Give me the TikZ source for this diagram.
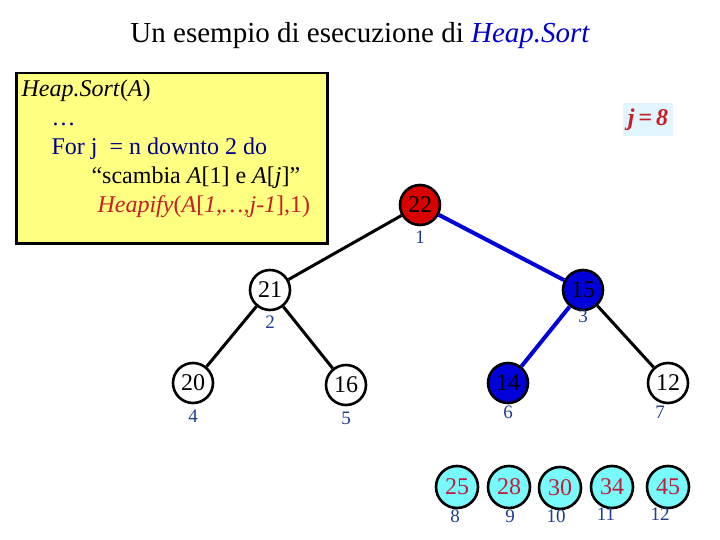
\documentclass[tikz,border=0pt]{standalone}
\usepackage{fontspec}
\setmainfont{Liberation Serif}
\setsansfont{Liberation Sans}
\begin{document}
\begin{tikzpicture}[x=1pt,y=-1pt,
  nd/.style={circle,draw,line width=2.6pt,minimum size=40pt,inner sep=0pt,font=\fontsize{24}{24}\selectfont},
  lf/.style={nd,fill={rgb,255:red,120;green,250;blue,250},text={rgb,255:red,190;green,30;blue,60},minimum size=42pt},
  ix/.style={text={rgb,255:red,30;green,60;blue,140},font=\fontsize{19}{19}\selectfont},
  ed/.style={line width=3pt},
  bed/.style={line width=4pt,blue!85!black}]
\useasboundingbox (0,0) rectangle (720,540);
\definecolor{redt}{RGB}{200,30,40}
\definecolor{navy}{RGB}{0,0,140}
\node (title) at (360,36) {\fontsize{29}{29}\selectfont Un esempio di esecuzione di \textcolor{blue!80!black}{\itshape Heap.Sort}};
\node[draw,line width=2.5pt,fill={rgb,255:red,255;green,255;blue,130},minimum width=311pt,minimum height=170pt,anchor=north west] (box) at (15,72) {};
\node[anchor=north west,align=left,font=\fontsize{24}{29}\selectfont] (code) at (18,76)
{\textit{Heap.Sort}(\textit{A})\\
\hspace*{30pt}\textcolor{navy}{\ldots}\\
\hspace*{30pt}\textcolor{navy}{For j\ \ = n downto 2 do}\\
\hspace*{70pt}``scambia \textit{A}[1] e \textit{A}[\textit{j}]''\\
\hspace*{76pt}\textcolor{redt}{\textit{Heapify}(\textit{A}[\textit{1,\ldots,j-1}],1)}};
\node[fill=cyan!12,minimum width=50pt,minimum height=33pt] (jv) at (648,120) {\fontsize{24}{24}\selectfont\bfseries\itshape\textcolor{redt}{j\,=\,8}};
\node[nd,fill=red!85!black] (n1) at (420,205) {22};
\node[nd] (n2) at (270,290) {21};
\node[nd,fill=blue!85!black] (n3) at (583,290) {15};
\node[nd] (n4) at (193,383) {20};
\node[nd] (n5) at (346,385) {16};
\node[nd,fill=blue!85!black] (n6) at (508,383) {14};
\node[nd] (n7) at (668,383) {12};
\node[lf] (n8) at (457,487) {25};
\node[lf] (n9) at (509,487) {28};
\node[lf] (n10) at (560,488) {30};
\node[lf] (n11) at (612,487) {34};
\node[lf] (n12) at (668,487) {45};
\node[ix] (i1) at (420,237) {1};
\node[ix] (i2) at (270,322) {2};
\node[ix] (i3) at (583,316) {3};
\node[ix] (i4) at (193,416) {4};
\node[ix] (i5) at (346,418) {5};
\node[ix] (i6) at (508,412) {6};
\node[ix] (i7) at (660,412) {7};
\node[ix] (i8) at (455,516) {8};
\node[ix] (i9) at (510,516) {9};
\node[ix] (i10) at (556,516) {10};
\node[ix] (i11) at (606,514) {11};
\node[ix] (i12) at (660,514) {12};
\draw[ed] (n1) -- (n2);
\draw[bed] (n1) -- (n3);
\draw[ed] (n2) -- (n4);
\draw[ed] (n2) -- (n5);
\draw[bed] (n3) -- (n6);
\draw[ed] (n3) -- (n7);
\end{tikzpicture}
\end{document}
